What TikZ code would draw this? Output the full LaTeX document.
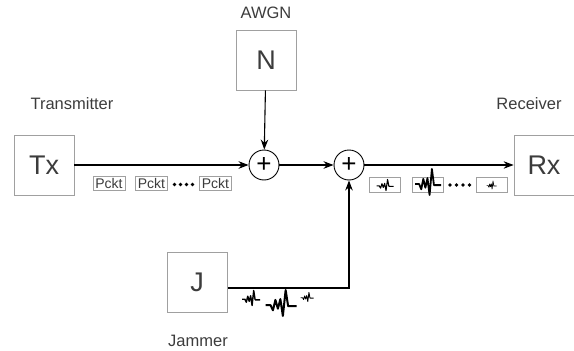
\documentclass[tikz,border=0pt]{standalone}
\usepackage{fontspec}
\setmainfont{Liberation Sans}
\usetikzlibrary{arrows.meta}
\definecolor{boxgray}{HTML}{A0A0A0}
\definecolor{txtgray}{HTML}{3C3C3C}
\tikzset{
  block/.style={draw=boxgray, line width=0.8pt, minimum size=60pt, inner sep=0pt,
    text=txtgray, font=\fontsize{27}{28}\selectfont},
  adder/.style={draw, line width=0.9pt, circle, minimum size=30pt, inner sep=0pt,
    font=\fontsize{26}{26}\selectfont},
  caption/.style={text=txtgray, font=\fontsize{16.5}{18}\selectfont},
  pckt/.style={draw=boxgray, line width=0.7pt, text=txtgray, inner sep=0pt,
    minimum width=32pt, minimum height=14pt, font=\fontsize{14}{14}\selectfont},
  noisebox/.style={draw=boxgray, line width=0.7pt, inner sep=0pt,
    minimum width=31pt, minimum height=15pt},
  sig/.style={-{Stealth[length=10pt,width=7.5pt]}, line width=1.1pt},
  dot/.style={fill, circle, inner sep=0pt, minimum size=3.6pt},
  pics/wave/.style={code={
    \draw[line width=#1, line join=round]
      (-0.5,0.08) -- (-0.34,0.08) -- (-0.26,0.28) -- (-0.18,-0.12) -- (-0.1,0.22)
      -- (-0.02,-0.15) -- (0.06,0.5) -- (0.15,-0.5) -- (0.23,0.12) -- (0.5,0.12);
  }},
  pics/wave/.default=1pt
}
\begin{document}
\begin{tikzpicture}[x=1pt,y=-1pt]
\useasboundingbox (0,0) rectangle (574,351);
% blocks
\node[block] (tx) at (44,165) {Tx};
\node[block] (awgn) at (266,60) {N};
\node[block] (rx) at (544,165) {Rx};
\node[block] (jam) at (197,282) {J};
\node[adder] (sum1) at (264,165) {+};
\node[adder] (sum2) at (349,165) {+};
% captions
\node[caption] (awgnlbl) at (266,13) {AWGN};
\node[caption] (txlbl) at (72,104) {Transmitter};
\node[caption] (rxlbl) at (529,104) {Receiver};
\node[caption] (jamlbl) at (198,341) {Jammer};
% connectors
\coordinate (jout) at (228,288);
\coordinate (jturn) at (349,288);
\draw[sig] (tx) -- (sum1);
\draw[sig] (awgn) -- (sum1);
\draw[sig] (sum1) -- (sum2);
\draw[sig] (sum2) -- (rx);
\draw[sig] (jout) -- (jturn) -- (sum2);
% packets
\node[pckt] (p1) at (109,183.5) {Pckt};
\node[pckt] (p2) at (151.5,183.5) {Pckt};
\node[pckt] (p3) at (215.5,183.5) {Pckt};
\foreach \x in {174.5,180.5,186.5,192.5}
  \node[dot] at (\x,184.5) {};
% noisy packets
\node[noisebox] (n1) at (385,184.5) {};
\node[noisebox] (n2) at (427.5,184.5) {};
\node[noisebox] (n3) at (491.5,184.5) {};
\foreach \x in {450,456.5,463,469.5}
  \node[dot] at (\x,185) {};
\pic[xscale=17, yscale=11] at (385,185) {wave=1.1pt};
\pic[xscale=26, yscale=26] at (428,182) {wave=1.8pt};
\pic[xscale=10, yscale=8] at (491.5,185) {wave=0.7pt};
% jammer signal
\pic[xscale=18, yscale=15] at (251,298) {wave=1.4pt};
\pic[xscale=31, yscale=26] at (281,303) {wave=2pt};
\pic[xscale=13, yscale=9] at (307,297) {wave=0.9pt};
\end{tikzpicture}
\end{document}
